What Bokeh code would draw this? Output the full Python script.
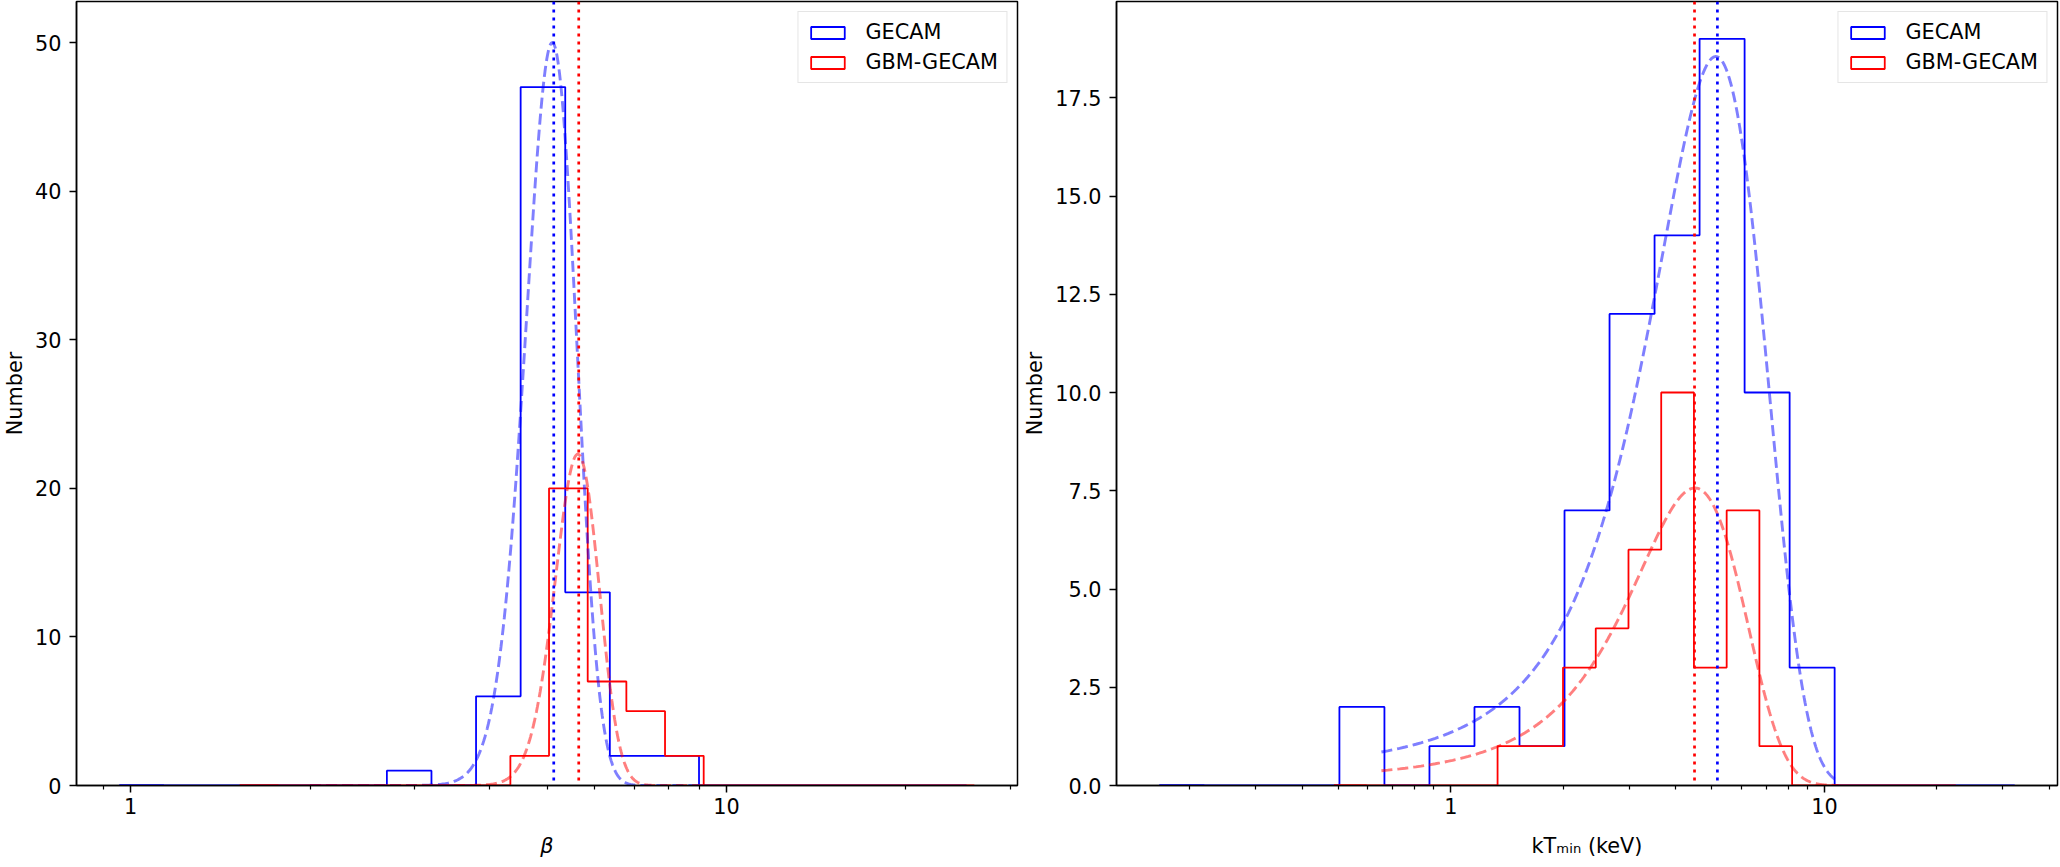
import numpy as np
from bokeh.plotting import figure
from bokeh.layouts import row
from bokeh.models import Range1d, FixedTicker, PrintfTickFormatter, Span
from bokeh.embed import file_html
from bokeh.resources import INLINE

FONT = "DejaVu Sans"
FSIZE = "20.8px"
BLUE = "#0000ff"
RED = "#ff0000"

# ---------------- data ----------------
series_labels = ["GECAM", "GBM-GECAM"]

# Left panel: beta histograms (log10 of first bin edge, log10 bin width, counts)
beta_gecam_log_start = -0.0191
beta_gecam_log_width = 0.07485
beta_gecam_counts = [0, 0, 0, 0, 0, 0, 1, 0, 6, 47, 13, 2, 2, 0, 0, 0, 0, 0, 0]
beta_gbm_log_start = 0.1830
beta_gbm_log_width = 0.0649
beta_gbm_counts = [0, 0, 0, 0, 0, 0, 0, 2, 20, 7, 5, 2, 0, 0, 0, 0, 0, 0, 0]

# Left panel: gaussian fits (amplitude, mean, sigma) and curve extent
beta_fit_gecam = [50.0, 5.10, 0.50]
beta_fit_gbm = [22.3, 5.63, 0.48]
beta_fit_extent = [2.0, 9.2]
# Left panel: median lines
beta_median_gecam = 5.13
beta_median_gbm = 5.65

# Right panel: kT_min histograms
kt_gecam_log_start = -0.7802
kt_gecam_log_width = 0.1205
kt_gecam_counts = [0, 0, 0, 0, 2, 0, 1, 2, 1, 7, 12, 14, 19, 10, 3, 0, 0, 0, 0]
kt_gbm_log_start = -0.3129
kt_gbm_log_width = 0.0876
kt_gbm_counts = [0, 0, 0, 0, 0, 1, 1, 3, 4, 6, 10, 3, 7, 1, 0, 0, 0, 0, 0]

kt_fit_gecam = [18.55, 5.12, 1.80]
kt_fit_gbm = [7.57, 4.50, 1.57]
kt_fit_extent = [0.652, 10.9]
kt_median_gecam = 5.17
kt_median_gbm = 4.49

# axis limits and ticks
beta_xlim = [0.811, 30.8]
beta_ylim = [0, 52.76]
beta_yticks = [0, 10, 20, 30, 40, 50]
kt_xlim = [0.1274, 42.05]
kt_ylim = [0, 19.95]
kt_yticks = [0, 2.5, 5, 7.5, 10, 12.5, 15, 17.5]
x_major = [1, 10]
x_minor = [0.2, 0.3, 0.4, 0.5, 0.6, 0.7, 0.8, 0.9, 2, 3, 4, 5, 6, 7, 8, 9, 20, 30, 40]


def bin_edges(log_start, log_width, counts):
    return [10 ** (log_start + i * log_width) for i in range(len(counts) + 1)]


def step_outline(edges, counts):
    xs, ys = [edges[0]], [0]
    for i, c in enumerate(counts):
        xs += [edges[i], edges[i + 1]]
        ys += [c, c]
    xs.append(edges[-1])
    ys.append(0)
    return xs, ys


def gauss_curve(params, extent):
    amp, mu, sig = params
    x = np.linspace(extent[0], extent[1], 400)
    return x, amp * np.exp(-(x - mu) ** 2 / (2 * sig ** 2))


def make_panel(xlim, ylim, yticks, yfmt, hists, fits, extent, medians, xlabel,
               xlabel_style, border_left, border_right):
    p = figure(x_axis_type="log", x_range=Range1d(*xlim), y_range=Range1d(*ylim),
               frame_width=941, frame_height=784, output_backend="svg",
               toolbar_location=None, min_border_left=border_left,
               min_border_right=border_right, min_border_top=1, min_border_bottom=58,
               background_fill_color="white", border_fill_color="white")
    p.grid.visible = False
    p.outline_line_color = "black"
    p.outline_line_width = 1.5

    for (ls, lw, cnt), col, lab in zip(hists, [BLUE, RED], series_labels):
        edges = bin_edges(ls, lw, cnt)
        xs, ys = step_outline(edges, cnt)
        p.line(xs, ys, line_color=col, line_width=1.8)
        # legend patch: the first (empty) bin as an outlined box of zero height
        p.quad(left=[edges[0]], right=[edges[1]], top=[cnt[0]], bottom=[0],
               fill_alpha=0, line_color=col, line_width=1.8, legend_label=lab)
    for prm, col in zip(fits, [BLUE, RED]):
        x, y = gauss_curve(prm, extent)
        p.line(x, y, line_color=col, line_alpha=0.5, line_width=2.9, line_dash="11 5")
    for m, col in zip(medians, [BLUE, RED]):
        p.add_layout(Span(location=m, dimension="height", line_color=col,
                          line_width=2.7, line_dash="3 5"))

    p.xaxis.ticker = FixedTicker(ticks=x_major, minor_ticks=x_minor)
    p.xaxis.formatter = PrintfTickFormatter(format="%d")
    p.yaxis.ticker = FixedTicker(ticks=yticks)
    if yfmt:
        p.yaxis.formatter = PrintfTickFormatter(format=yfmt)
    for ax in [p.xaxis[0], p.yaxis[0]]:
        ax.axis_line_color = "black"
        ax.axis_line_width = 1.5
        ax.major_tick_line_color = "black"
        ax.major_tick_line_width = 1.5
        ax.minor_tick_line_color = "black"
        ax.minor_tick_line_width = 1.2
        ax.major_tick_out = 7
        ax.major_tick_in = 0
        ax.minor_tick_out = 4
        ax.minor_tick_in = 0
        ax.major_label_text_font = FONT
        ax.major_label_text_font_size = FSIZE
        ax.major_label_text_color = "black"
        ax.axis_label_text_font = FONT
        ax.axis_label_text_font_size = FSIZE
        ax.axis_label_text_color = "black"
        ax.axis_label_text_font_style = "normal"
        ax.axis_label_standoff = 5
    p.yaxis.minor_tick_out = 0
    p.yaxis.major_label_standoff = 8
    p.xaxis.major_label_standoff = 5
    p.xaxis.axis_label_standoff = 17
    p.xaxis.axis_label = xlabel
    p.xaxis.axis_label_text_font_style = xlabel_style
    p.yaxis.axis_label = "Number"

    lg = p.legend[0]
    lg.location = "top_right"
    lg.margin = 10
    lg.padding = 8
    lg.spacing = 6
    lg.label_height = 20
    lg.glyph_height = 15
    lg.glyph_width = 42
    lg.label_standoff = 17
    lg.label_text_font = FONT
    lg.label_text_font_size = FSIZE
    lg.label_text_color = "black"
    lg.border_line_color = "#cccccc"
    lg.border_line_width = 1.2
    lg.background_fill_alpha = 0.8
    return p


left = make_panel(beta_xlim, beta_ylim, beta_yticks, None,
                  [(beta_gecam_log_start, beta_gecam_log_width, beta_gecam_counts),
                   (beta_gbm_log_start, beta_gbm_log_width, beta_gbm_counts)],
                  [beta_fit_gecam, beta_fit_gbm], beta_fit_extent,
                  [beta_median_gecam, beta_median_gbm], "β", "italic", 69, 3)
right = make_panel(kt_xlim, kt_ylim, kt_yticks, "%.1f",
                   [(kt_gecam_log_start, kt_gecam_log_width, kt_gecam_counts),
                    (kt_gbm_log_start, kt_gbm_log_width, kt_gbm_counts)],
                   [kt_fit_gecam, kt_fit_gbm], kt_fit_extent,
                   [kt_median_gecam, kt_median_gbm], "kTₘᵢₙ (keV)", "normal", 90, 2)

layout = row(left, right)
open("out.html", "w").write(file_html(layout, INLINE))
